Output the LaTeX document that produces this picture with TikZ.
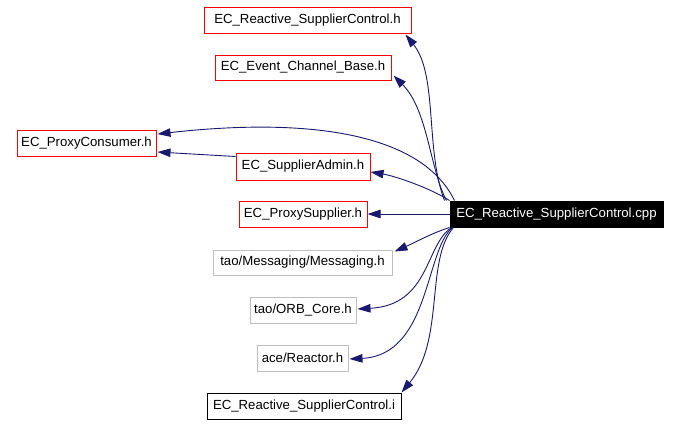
\documentclass[tikz,border=0pt]{standalone}
\usepackage{fontspec}
\setmainfont{Liberation Sans}
\usetikzlibrary{arrows.meta}
\definecolor{edgeblue}{RGB}{25,25,112}
\definecolor{lgray}{RGB}{191,191,191}
\tikzset{
  file/.style={draw, line width=1pt, inner sep=0pt, font=\fontsize{13.2}{15}\selectfont, text=black},
  redbox/.style={file, draw=red},
  graybox/.style={file, draw=lgray},
  blackbox/.style={file, draw=black},
  mainbox/.style={file, draw=black, fill=black, text=white},
  dep/.style={draw=edgeblue, line width=0.9pt, -{Triangle[length=13pt,width=8.5pt]}, fill=none},
}
\begin{document}
\begin{tikzpicture}[x=1pt,y=-1pt]
\useasboundingbox (0,0) rectangle (680,424);
\node[redbox, minimum width=207, minimum height=26] (rsch) at (307.5,20) {EC\_Reactive\_SupplierControl.h};
\node[redbox, minimum width=176, minimum height=25] (ecb) at (303,67.5) {EC\_Event\_Channel\_Base.h};
\node[redbox, minimum width=139, minimum height=26] (pc) at (86.5,143) {EC\_ProxyConsumer.h};
\node[redbox, minimum width=134, minimum height=27] (sa) at (303,166.5) {EC\_SupplierAdmin.h};
\node[redbox, minimum width=128, minimum height=26] (ps) at (303,214) {EC\_ProxySupplier.h};
\node[mainbox, minimum width=213, minimum height=26] (cpp) at (556.5,214) {EC\_Reactive\_SupplierControl.cpp};
\node[graybox, minimum width=179, minimum height=25] (msg) at (302.5,262.5) {tao/Messaging/Messaging.h};
\node[graybox, minimum width=106, minimum height=26] (orb) at (303,310) {tao/ORB\_Core.h};
\node[graybox, minimum width=91, minimum height=26] (rea) at (302.5,358) {ace/Reactor.h};
\node[blackbox, minimum width=194, minimum height=26] (rsci) at (304,406) {EC\_Reactive\_SupplierControl.i};

\draw[dep] ([xshift=-5pt]cpp.north west) .. controls (425,150) and (438,75) .. ([xshift=-6pt,yshift=-1pt]rsch.south east);
\draw[dep] ([xshift=-3pt]cpp.north west) .. controls (430,170) and (428,110) .. ([xshift=2pt,yshift=5pt]ecb.south east);
\draw[dep] ([xshift=5pt]cpp.north west) .. controls (420,130) and (300,118) .. ([xshift=1pt,yshift=9pt]pc.east);
\draw[dep] ([yshift=10pt]sa.west) -- ([xshift=1pt,yshift=-9pt]pc.east);
\draw[dep] (cpp.north west) .. controls (430,188) and (395,176) .. ([yshift=-5.5pt]sa.east);
\draw[dep] (cpp.west) -- (ps.east);
\draw[dep] (cpp.south west) .. controls (432,233) and (414,243) .. ([xshift=2pt,yshift=-2pt]msg.north east);
\draw[dep] ([xshift=2pt]cpp.south west) .. controls (425,245) and (430,305) .. ([xshift=1pt,yshift=1pt]orb.east);
\draw[dep] ([xshift=3pt]cpp.south west) .. controls (425,250) and (430,355) .. ([xshift=1pt,yshift=-1pt]rea.east);
\draw[dep] ([xshift=4pt]cpp.south west) .. controls (425,260) and (445,340) .. (rsci.north east);
\end{tikzpicture}
\end{document}
